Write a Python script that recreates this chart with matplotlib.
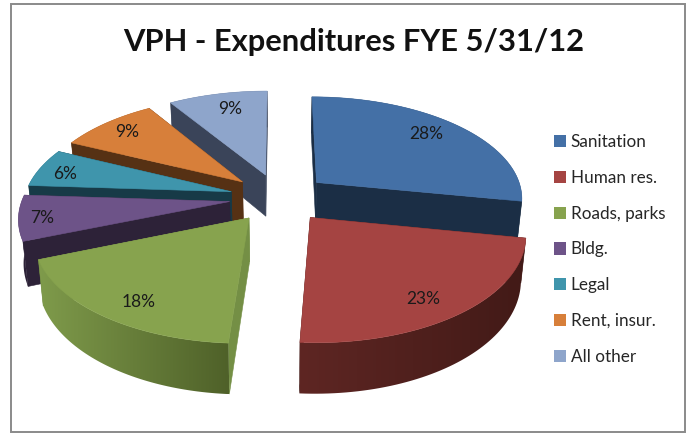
import numpy as np
import matplotlib
matplotlib.use("Agg")
import matplotlib.pyplot as plt
from matplotlib.patches import Patch, Polygon, Rectangle
from matplotlib.colors import to_rgb

TITLE = "VPH - Expenditures FYE 5/31/12"
categories = ["Sanitation", "Human res.", "Roads, parks", "Bldg.", "Legal", "Rent, insur.", "All other"]
shares = [28, 23, 18, 7, 6, 9, 9]
top_colors = ["#4470A6", "#A54442", "#87A34E", "#6D5388", "#3F95AC", "#D77F3A", "#8EA5CB"]
cut_colors = ["#1B2E45", "#451B18", "#748F45", "#2D2238", "#173A47", "#563114", "#3A4459"]
wall_left = ["#1B2E45", "#5E2623", "#7F9B4B", "#2D2238", "#173A47", "#563114", "#3A4459"]
wall_right = ["#1B2E45", "#421A17", "#4F6129", "#2D2238", "#173A47", "#563114", "#3A4459"]
draw_order = ["All other", "Rent, insur.", "Sanitation", "Legal", "Bldg.", "Roads, parks", "Human res."]
label_radii = [0.80, 0.81, 0.85, 0.90, 0.87, 0.85, 0.82]
label_nudge_x = [-5, -7, 11, 2, 0, 2, 5]
label_nudge_y = [2, -6, -2, -2, -3, -1, -2]

# 3D pie projection parameters (pixels)
CX, CY, RX, RY = 279.0, 197.7, 207.0, 101.6
PERSP = 0.14
EXPLODE = 0.24
DEPTH = 42.5
CONVERGE = 0.02

fig = plt.figure(figsize=(6.86, 4.33), dpi=100)
ax = fig.add_axes([0, 0, 1, 1])
ax.axis("off")
FONT = "Lato"


def project(U, V, lower=False):
    w = 1 + PERSP * V
    x = CX + RX * U / w
    y = CY - RY * V / w
    if lower:
        y = y + DEPTH / w
        x = x + (CX - x) * CONVERGE
    return x, y


def quad(xa, ya, xb, yb, color, z):
    ax.fill(np.r_[xa, xb[::-1]], np.r_[ya, yb[::-1]], facecolor=color, edgecolor=color,
            linewidth=0.4, zorder=z)


def gradient_wall(xa, ya, xb, yb, left, right, z):
    pts = np.column_stack([np.r_[xa, xb[::-1]], np.r_[ya, yb[::-1]]])
    x0, x1 = pts[:, 0].min(), pts[:, 0].max()
    y0, y1 = pts[:, 1].min(), pts[:, 1].max()
    f = np.linspace(0, 1, 256)[None, :, None]
    grad = (1 - f) * np.array(to_rgb(left)) + f * np.array(to_rgb(right))
    im = ax.imshow(grad, extent=(x0, x1, y1, y0), aspect="auto", interpolation="bilinear", zorder=z)
    clip = Polygon(pts, closed=True, transform=ax.transData, facecolor="none", edgecolor="none")
    ax.add_patch(clip)
    im.set_clip_path(clip)


edges = np.cumsum([0] + shares) / sum(shares) * 2 * np.pi
for rank, name in enumerate(draw_order):
    i = categories.index(name)
    t0, t1 = edges[i], edges[i + 1]
    mid = (t0 + t1) / 2
    ox, oy = EXPLODE * np.sin(mid), EXPLODE * np.cos(mid)
    t = np.linspace(t0, t1, 61)
    aU, aV = ox + np.sin(t), oy + np.cos(t)
    base = rank * 10 + 1

    faces = []
    for th in (t0, t1):
        U = np.array([ox, ox + np.sin(th)])
        V = np.array([oy, oy + np.cos(th)])
        faces.append((np.mean(project(U, V)[1]), "cut", U, V))
    faces.append((np.mean(project(aU, aV)[1]), "wall", aU, aV))
    faces.sort(key=lambda f: f[0])
    for k, (_, kind, U, V) in enumerate(faces):
        xa, ya = project(U, V)
        xb, yb = project(U, V, lower=True)
        if kind == "cut":
            quad(xa, ya, xb, yb, cut_colors[i], base + k)
        else:
            gradient_wall(xa, ya, xb, yb, wall_left[i], wall_right[i], base + k)

    x, y = project(np.r_[ox, aU], np.r_[oy, aV])
    ax.fill(x, y, facecolor=top_colors[i], edgecolor=top_colors[i], linewidth=0.4, zorder=base + 5)

    r = label_radii[i]
    lx, ly = project(ox + r * np.sin(mid), oy + r * np.cos(mid))
    ax.annotate(f"{shares[i]}%", (lx, ly),
                xytext=(label_nudge_x[i] * 0.72, label_nudge_y[i] * 0.72), textcoords="offset points",
                ha="center", va="center", fontsize=12.5, family=FONT, color="#1a1a1a", zorder=200)

ax.set_xlim(0, 686)
ax.set_ylim(433, 0)

ax.add_patch(Rectangle((10.5, 4), 674.5, 428, fill=False, edgecolor="#8a8a8a", linewidth=1.4, zorder=300))

ax.text(354, 42, TITLE, ha="center", va="center", fontsize=22.2, fontweight="bold",
        family=FONT, color="#111111", zorder=200)

handles = [Patch(facecolor=c, edgecolor="none") for c in top_colors]
leg = ax.legend(handles, categories, loc="upper left", bbox_to_anchor=(554 / 686, 1 - 134 / 433),
                frameon=False, prop={"family": FONT, "size": 12.3}, labelspacing=1.16,
                handlelength=0.72, handleheight=0.72, handletextpad=0.25, borderpad=0, borderaxespad=0)
for txt in leg.get_texts():
    txt.set_color("#262626")

fig.savefig("out.png", dpi=100)
